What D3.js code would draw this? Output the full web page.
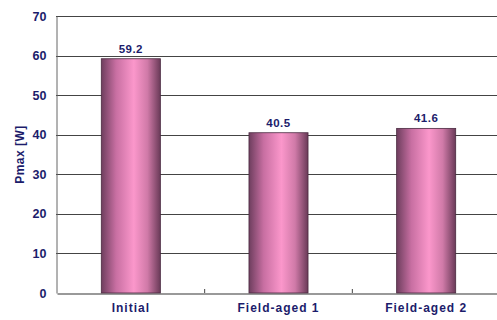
<!DOCTYPE html>
<html>
<head>
<meta charset="utf-8">
<script src="https://cdn.jsdelivr.net/npm/d3@7"></script>
<style>
  html, body { margin: 0; padding: 0; background: #fff; }
  svg text { font-family: "Liberation Sans", Arial, sans-serif; font-weight: bold; fill: #1c1c6b; }
</style>
</head>
<body>
<svg id="canvas" width="497" height="320"></svg>
<script>
const categories = ["Initial", "Field-aged 1", "Field-aged 2"];
const values = [59.2, 40.5, 41.6];
const yTicks = [0, 10, 20, 30, 40, 50, 60, 70];

const width = 497;
const height = 320;
const margin = {top: 16, right: -3, bottom: 27, left: 57};

const svg = d3.select("svg#canvas");

const x = d3.scaleBand()
    .domain(categories)
    .range([margin.left, width - margin.right])
    .paddingInner(0.6)
    .paddingOuter(0.3);

const y = d3.scaleLinear()
    .domain([0, 70])
    .range([height - margin.bottom, margin.top]);

// bar gradient (dark edges, pink middle)
const grad = svg.append("defs").append("linearGradient")
    .attr("id", "barGrad")
    .attr("x1", "0%").attr("x2", "100%")
    .attr("y1", "0%").attr("y2", "0%");
grad.append("stop").attr("offset", "0%").attr("stop-color", "#6e3e5e");
grad.append("stop").attr("offset", "25%").attr("stop-color", "#c86fa2");
grad.append("stop").attr("offset", "55%").attr("stop-color", "#fb97cb");
grad.append("stop").attr("offset", "78%").attr("stop-color", "#d07aa8");
grad.append("stop").attr("offset", "100%").attr("stop-color", "#6a3a58");

// gridlines
svg.append("g")
  .selectAll("line")
  .data(yTicks.filter(d => d > 0))
  .join("line")
    .attr("x1", margin.left - 1)
    .attr("x2", width)
    .attr("y1", d => Math.round(y(d)) + 0.5)
    .attr("y2", d => Math.round(y(d)) + 0.5)
    .attr("stroke", "#444")
    .attr("stroke-width", 1);

// y axis
const yAxis = svg.append("g")
    .attr("transform", `translate(${margin.left - 0.5},0)`)
    .call(d3.axisLeft(y).tickValues(yTicks).tickSize(0).tickPadding(10));
yAxis.select(".domain").attr("stroke", "#666");
yAxis.selectAll("text")
    .style("font-size", "12.5px")
    .attr("fill", "#1c1c6b");

// x axis
const xAxis = svg.append("g")
    .attr("transform", `translate(0,${Math.round(y(0)) + 0.5})`)
    .call(d3.axisBottom(x).tickSize(0).tickPadding(10));
xAxis.select(".domain").attr("stroke", "#777").attr("stroke-width", 1.5);
xAxis.selectAll("text")
    .style("font-size", "12px")
    .style("letter-spacing", "1px")
    .attr("fill", "#1c1c6b");

// category separator ticks
svg.append("g")
  .selectAll("line")
  .data(categories.slice(1))
  .join("line")
    .attr("x1", d => x(d) - x.step() * x.paddingInner() / 2)
    .attr("x2", d => x(d) - x.step() * x.paddingInner() / 2)
    .attr("y1", y(0))
    .attr("y2", y(0) - 4)
    .attr("stroke", "#444");

// bars
svg.append("g")
  .selectAll("rect")
  .data(values)
  .join("rect")
    .attr("x", (d, i) => x(categories[i]))
    .attr("y", d => y(d))
    .attr("width", x.bandwidth())
    .attr("height", d => y(0) - y(d))
    .attr("fill", "url(#barGrad)")
    .attr("stroke", "#4a2a40")
    .attr("stroke-width", 0.8);

// value labels
svg.append("g")
  .selectAll("text")
  .data(values)
  .join("text")
    .attr("x", (d, i) => x(categories[i]) + x.bandwidth() / 2)
    .attr("y", d => y(d) - 6)
    .attr("text-anchor", "middle")
    .style("font-size", "11.5px")
    .style("letter-spacing", "0.5px")
    .text(d => d.toFixed(1));

// y title
svg.append("text")
    .attr("transform", `translate(24,${(y(0) + y(70)) / 2}) rotate(-90)`)
    .attr("text-anchor", "middle")
    .style("font-size", "12px")
    .style("letter-spacing", "0.5px")
    .text("Pmax [W]");
</script>
</body>
</html>
